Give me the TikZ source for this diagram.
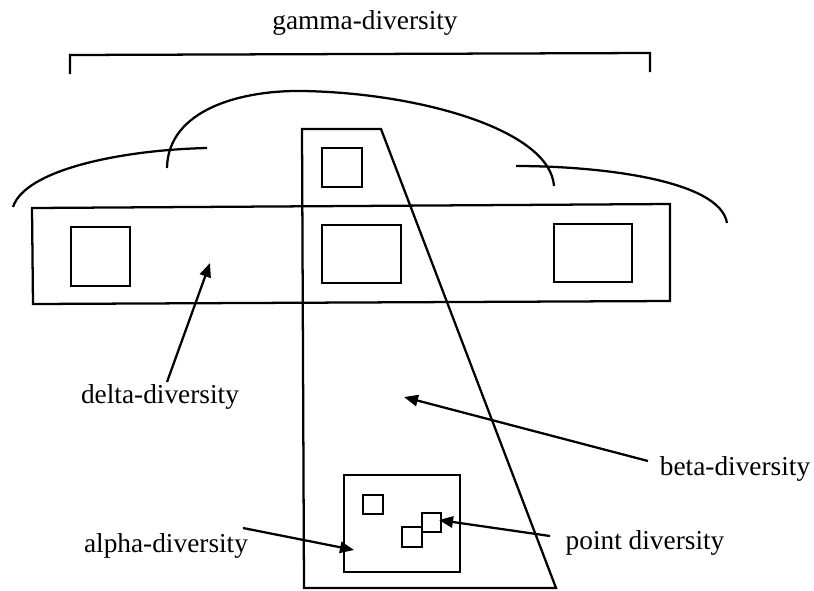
\documentclass[tikz,border=0pt]{standalone}
\usepackage{fontspec}
\setmainfont{Liberation Serif}
\usetikzlibrary{arrows.meta}
\begin{document}
\begin{tikzpicture}[x=0.75pt,y=-0.75pt,
  shp/.style={draw=black,line width=1.7pt},
  lbl/.style={anchor=base,inner sep=0pt,font=\fontsize{20.5}{24}\selectfont},
  arr/.style={draw=black,line width=1.7pt,-{Triangle[length=10.5pt,width=8.5pt]}}]
\useasboundingbox (0,0) rectangle (814,590);
% bracket
\draw[shp] (70,74) -- (70,55) -- (650,53) -- (650,72);
% cloud arcs
\draw[shp] (13,207) .. controls (25,170) and (120,150) .. (207,148);
\draw[shp] (167,168) .. controls (168,110) and (240,90) .. (303,91)
           .. controls (420,93) and (550,130) .. (554,186);
\draw[shp] (516,166) .. controls (600,166) and (720,180) .. (727,223);
% delta rectangle and squares
\draw[shp] (32,208) -- (670,204) -- (670,301) -- (33,304) -- cycle;
\draw[shp] (71,227) rectangle (130,286);
\draw[shp] (322,225) rectangle (401,283);
\draw[shp] (554,224) rectangle (632,282);
% beta trapezoid
\draw[shp] (302,129) -- (381,129) -- (556,588) -- (304,588) -- cycle;
\draw[shp] (322,148) rectangle (362,187);
% alpha rectangle and points
\draw[shp] (344,475) rectangle (460,572);
\draw[shp] (363,495) rectangle (383,514);
\draw[shp] (422,513) rectangle (441,532);
\draw[shp] (402,527) rectangle (422,547);
% labels
\node[lbl] (gamma) at (365,29) {gamma-diversity};
\node[lbl] (delta) at (160,403) {delta-diversity};
\node[lbl] (beta) at (735,475) {beta-diversity};
\node[lbl] (alpha) at (166,552) {alpha-diversity};
\node[lbl] (point) at (645,549) {point diversity};
% arrow end points
\coordinate (dT) at (167,382); \coordinate (dH) at (210,263);
\coordinate (bT) at (648,461); \coordinate (bH) at (404,397);
\coordinate (aT) at (243,528); \coordinate (aH) at (354,550);
\coordinate (pT) at (550,536); \coordinate (pH) at (439,520);
\draw[arr] (dT) -- (dH);
\draw[arr] (bT) -- (bH);
\draw[arr] (aT) -- (aH);
\draw[arr] (pT) -- (pH);
\end{tikzpicture}
\end{document}
